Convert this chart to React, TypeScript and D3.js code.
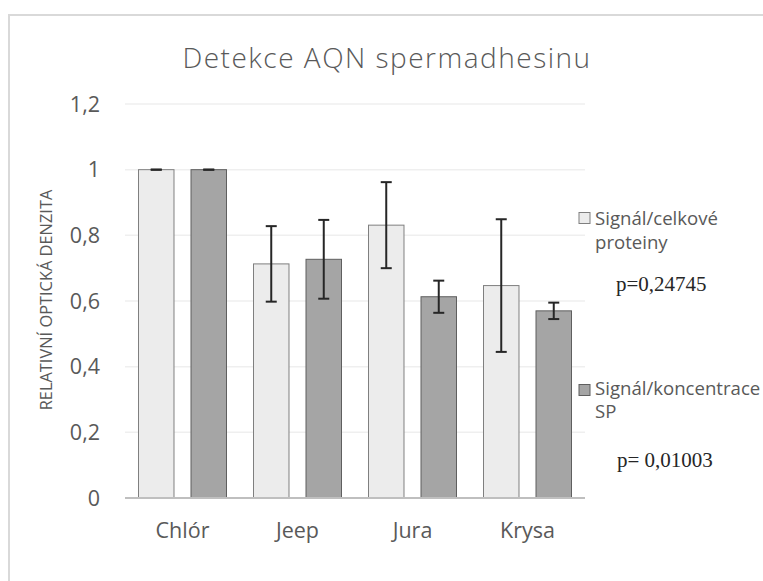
import React from "react";
import * as d3 from "d3";

const categories = ["Chlór", "Jeep", "Jura", "Krysa"];
const seriesNames = ["Signál/celkové proteiny", "Signál/koncentrace SP"];
const lightValues = [1, 0.713, 0.831, 0.647];
const lightErrors = [0, 0.115, 0.131, 0.202];
const darkValues = [1, 0.727, 0.613, 0.570];
const darkErrors = [0, 0.12, 0.049, 0.025];
const yTicks = [0, 0.2, 0.4, 0.6, 0.8, 1, 1.2];
const pValues = ["p=0,24745", "p= 0,01003"];

const FONT = "'Open Sans', sans-serif";

export default function App() {
  const W = 763, H = 581;
  const plotLeft = 125, plotRight = 585, plotTop = 104, plotBottom = 498;
  const x0 = d3.scaleBand<string>().domain(categories).range([plotLeft, plotRight]).padding(0);
  const x1 = d3.scaleBand<string>().domain(["a", "b"]).range([13.5, x0.bandwidth() - 13.5]).paddingInner(0.324);
  const y = d3.scaleLinear().domain([0, 1.2]).range([plotBottom, plotTop]);
  const fmt = (v: number) => String(+v.toFixed(1)).replace(".", ",");

  const series = [
    { key: "a", values: lightValues, errors: lightErrors, fill: "#ececec", stroke: "#7f7f7f" },
    { key: "b", values: darkValues, errors: darkErrors, fill: "#a5a5a5", stroke: "#5f5f5f" },
  ];

  return (
    <svg width={W} height={H} style={{ position: "absolute", left: 0, top: 0, background: "#fff" }}>
      <rect x={9} y={15} width={760} height={580} fill="#fff" stroke="#d9d9d9" strokeWidth={2} />
      <text x={387} y={68} textAnchor="middle" fontFamily={FONT} fontWeight={300} fontSize={28} letterSpacing={1.5} fill="#595959">
        Detekce AQN spermadhesinu
      </text>
      {yTicks.map((t) => (
        <g key={t}>
          {t > 0 && (
            <line x1={plotLeft} x2={plotRight} y1={y(t)} y2={y(t)} stroke="#efefef" strokeWidth={1.5} />
          )}
          <text x={100} y={y(t) + 7.5} textAnchor="end" fontFamily={FONT} fontSize={21.5} fill="#595959">
            {fmt(t)}
          </text>
        </g>
      ))}
      {categories.map((c, i) => (
        <g key={c}>
          {series.map((s) => {
            const bx = (x0(c) as number) + (x1(s.key) as number);
            const bw = x1.bandwidth();
            const v = s.values[i];
            const e = s.errors[i];
            const cx = bx + bw / 2;
            return (
              <g key={s.key}>
                <rect x={bx} y={y(v)} width={bw} height={y(0) - y(v)} fill={s.fill} stroke={s.stroke} strokeWidth={1} />
                <line x1={cx} x2={cx} y1={y(v + e)} y2={y(v - e)} stroke="#262626" strokeWidth={2} />
                <line x1={cx - 5.5} x2={cx + 5.5} y1={y(v + e)} y2={y(v + e)} stroke="#262626" strokeWidth={2} />
                <line x1={cx - 5.5} x2={cx + 5.5} y1={y(v - e)} y2={y(v - e)} stroke="#262626" strokeWidth={2} />
              </g>
            );
          })}
          <text x={(x0(c) as number) + x0.bandwidth() / 2} y={538} textAnchor="middle" fontFamily={FONT} fontSize={21.5} fill="#595959">
            {c}
          </text>
        </g>
      ))}
      <line x1={plotLeft} x2={plotRight} y1={y(0)} y2={y(0)} stroke="#bfbfbf" strokeWidth={2} />
      <text transform={`translate(52,300) rotate(-90)`} textAnchor="middle" fontFamily={FONT} fontSize={16.4} fill="#595959">
        RELATIVNÍ OPTICKÁ DENZITA
      </text>
      {/* legend */}
      <rect x={579} y={212.5} width={11} height={11} fill={series[0].fill} stroke={series[0].stroke} strokeWidth={1} />
      <text x={595} y={225} fontFamily={FONT} fontSize={18.6} fill="#595959">
        <tspan x={595}>Signál/celkové</tspan>
        <tspan x={595} y={249}>proteiny</tspan>
      </text>
      <text x={616} y={291} fontFamily="'Liberation Serif', serif" fontSize={21} fill="#262626">
        {pValues[0]}
      </text>
      <rect x={579} y={384.5} width={11} height={11} fill={series[1].fill} stroke={series[1].stroke} strokeWidth={1} />
      <text x={595} y={395} fontFamily={FONT} fontSize={18.6} fill="#595959">
        <tspan x={595}>Signál/koncentrace</tspan>
        <tspan x={595} y={418}>SP</tspan>
      </text>
      <text x={617} y={467} fontFamily="'Liberation Serif', serif" fontSize={21} fill="#262626">
        {pValues[1]}
      </text>
    </svg>
  );
}
